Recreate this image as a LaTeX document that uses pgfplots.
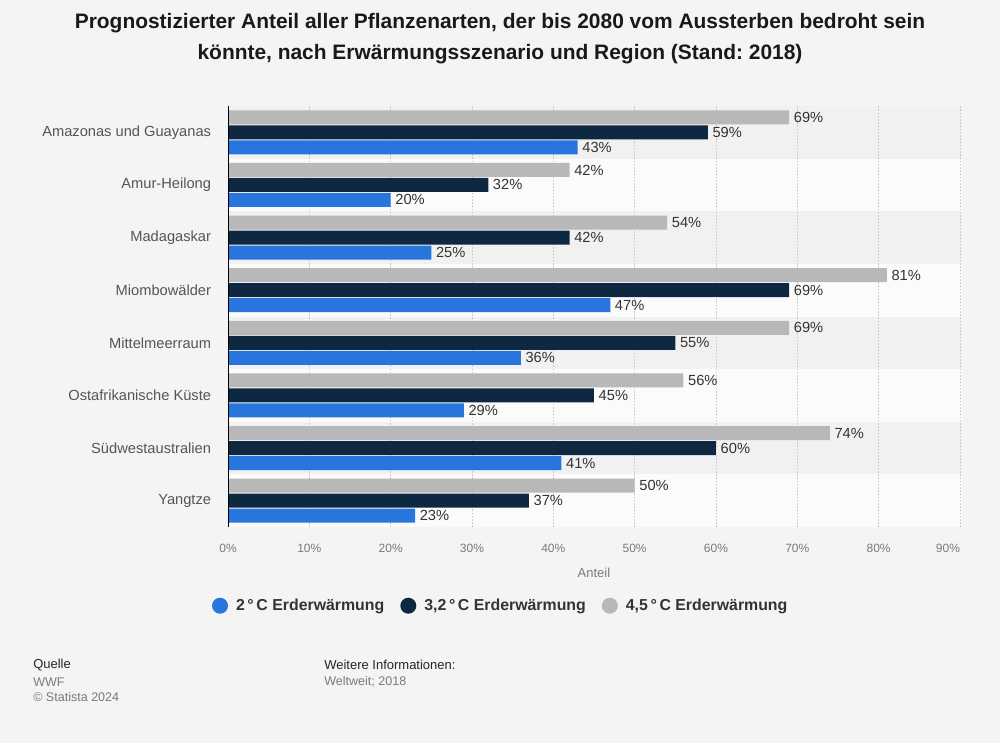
\documentclass[border=0pt]{standalone}
\usepackage{fontspec}
\setmainfont{Liberation Sans}
\usepackage{pgfplots}
\pgfplotsset{compat=1.18}
\frenchspacing
\definecolor{bg}{HTML}{F4F4F4}
\definecolor{stripeA}{HTML}{F1F1F1}
\definecolor{stripeB}{HTML}{FBFBFB}
\definecolor{cblue}{HTML}{2876DD}
\definecolor{cnavy}{HTML}{0F2841}
\definecolor{cgray}{HTML}{B8B8B8}
\definecolor{txt}{HTML}{333333}
\definecolor{cat}{HTML}{555555}
\definecolor{tick}{HTML}{7A7A7A}
\begin{document}
\begin{tikzpicture}
\begin{scope}[x=0.75pt,y=-0.75pt]
\fill[bg] (0,0) rectangle (1000,743);
\foreach \i in {0,...,7} {
  \pgfmathsetmacro\ya{106+52.625*\i}
  \pgfmathsetmacro\yb{106+52.625*(\i+1)}
  \ifodd\i
    \fill[stripeB] (228,\ya) rectangle (962,\yb);
  \else
    \fill[stripeA] (228,\ya) rectangle (962,\yb);
  \fi
}
\node[align=center, font=\fontsize{15.7}{23.25}\selectfont\bfseries, text=black!90] at (500,39)
  {Prognostizierter Anteil aller Pflanzenarten, der bis 2080 vom Aussterben bedroht sein\\könnte, nach Erwärmungsszenario und Region (Stand: 2018)};
\node[anchor=west, inner sep=0pt, font=\fontsize{9.75}{11}\selectfont, text=black!85] at (33,665) {Quelle};
\node[anchor=west, inner sep=0pt, font=\fontsize{9.4}{11}\selectfont, text=tick] at (33,682) {WWF};
\node[anchor=west, inner sep=0pt, font=\fontsize{9.4}{11}\selectfont, text=tick] at (33,697) {© Statista 2024};
\node[anchor=west, inner sep=0pt, font=\fontsize{9.75}{11}\selectfont, text=black!85] at (324,665) {Weitere Informationen:};
\node[anchor=west, inner sep=0pt, font=\fontsize{9.4}{11}\selectfont, text=tick] at (324,682) {Weltweit; 2018};
\end{scope}
\begin{axis}[
  at={(171pt,-395.25pt)}, anchor=south west,
  scale only axis, width=549pt, height=315.75pt,
  xbar, bar width=10.5pt,
  xmin=0, xmax=90, ymin=-0.5, ymax=7.5,
  axis line style={draw=none},
  tick style={draw=none},
  xtick={0,10,...,90},
  xticklabels={0\%,10\%,20\%,30\%,40\%,50\%,60\%,70\%,80\%,\makebox[0pt][r]{90\%}},
  /pgf/number format/assume math mode=true,
  xticklabel style={anchor=center, inner sep=0pt, yshift=-15.75pt, font=\fontsize{9}{10}\selectfont, text=tick},
  ytick={0,...,7},
  yticklabels={Yangtze,Südwestaustralien,Ostafrikanische Küste,Mittelmeerraum,Miombowälder,Madagaskar,Amur-Heilong,Amazonas und Guayanas},
  yticklabel style={anchor=east, inner sep=0pt, xshift=-8.25pt, font=\fontsize{11}{13}\selectfont, text=cat},
  xmajorgrids, ymajorgrids=false,
  grid style={draw=black!22, dash pattern=on 1.2pt off 1.2pt},
  xlabel={Anteil},
  xlabel style={at={(axis description cs:0.5,-0.1093)}, anchor=center, inner sep=0pt, font=\fontsize{9.75}{11}\selectfont, text=tick},
  point meta=x,
  nodes near coords={\pgfmathprintnumber{\pgfplotspointmeta}\%},
  nodes near coords style={font=\fontsize{11}{13}\selectfont, text=txt, anchor=west},
  legend columns=3,
  legend style={at={(axis description cs:0.373,-0.187)}, anchor=center, draw=none, fill=none,
    font=\fontsize{11.9}{13}\selectfont\bfseries, text=txt,
    /tikz/every odd column/.append style={column sep=4pt},
    /tikz/every even column/.append style={column sep=10pt}},
]
\addplot[draw=none, fill=cblue, bar shift=-11.25pt,
  legend image code/.code={\fill[cblue] (6pt,0pt) circle (6pt);}]
  coordinates {(23,0) (41,1) (29,2) (36,3) (47,4) (25,5) (20,6) (43,7)};
\addlegendentry{2\,°\,C Erderwärmung}
\addplot[draw=none, fill=cnavy, bar shift=0pt,
  legend image code/.code={\fill[cnavy] (6pt,0pt) circle (6pt);}]
  coordinates {(37,0) (60,1) (45,2) (55,3) (69,4) (42,5) (32,6) (59,7)};
\addlegendentry{3,2\,°\,C Erderwärmung}
\addplot[draw=none, fill=cgray, bar shift=11.25pt,
  legend image code/.code={\fill[cgray] (6pt,0pt) circle (6pt);}]
  coordinates {(50,0) (74,1) (56,2) (69,3) (81,4) (54,5) (42,6) (69,7)};
\addlegendentry{4,5\,°\,C Erderwärmung}
\draw[black] (rel axis cs:0,0) -- (rel axis cs:0,1);
\end{axis}
\end{tikzpicture}
\end{document}
